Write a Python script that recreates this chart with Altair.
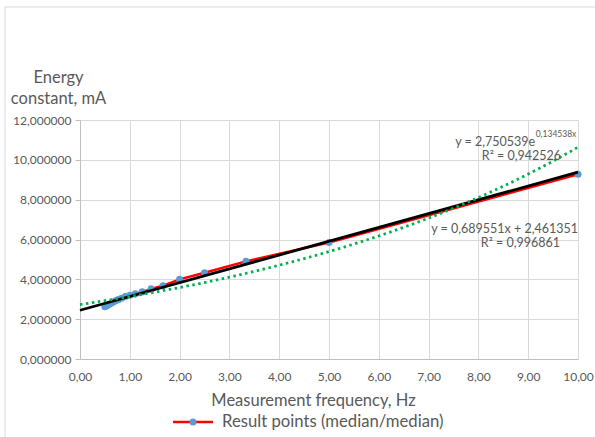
import altair as alt
import pandas as pd

# Measurement frequency (Hz) and energy constant (mA)
freq = [0.5, 0.526, 0.556, 0.588, 0.625, 0.667, 0.714, 0.769, 0.833, 0.909,
        1.0, 1.111, 1.25, 1.429, 1.667, 2.0, 2.5, 3.333, 5.0, 10.0]
energy = [2.62, 2.66, 2.70, 2.75, 2.80, 2.86, 2.92, 2.98, 3.05, 3.14,
          3.20, 3.27, 3.37, 3.52, 3.68, 4.00, 4.33, 4.90, 5.85, 9.28]

# Trendline labels (text, anchor x, anchor y in data units)
lin_labels = ["y = 0,689551x + 2,461351", "R\u00b2 = 0,996861"]
lin_label_x = [10.0, 9.64]
lin_label_y = [6.55, 5.8]
exp_labels = ["y = 2,750539e", "R\u00b2 = 0,942526"]
exp_label_x = [9.14, 9.66]
exp_label_y = [10.9, 10.2]
exp_sup = "0,134538x"

legend_text = "Result points (median/median)"

df = pd.DataFrame({"x": freq, "y": energy})

FONT = "Lato"
GREY = "#595959"
W, H = 498, 239

xs = alt.Scale(domain=[0, 10], nice=False, zero=False)
ys = alt.Scale(domain=[0, 12], nice=False, zero=False)

X = alt.X("x:Q", scale=xs,
          axis=alt.Axis(values=list(range(0, 11)),
                        labelExpr="replace(format(datum.value, '.2f'), '.', ',')",
                        labelFlush=False,
                        title="Measurement frequency, Hz",
                        titleX=233, titleY=46, titleAlign="center",
                        titleBaseline="alphabetic"))
Y = alt.Y("y:Q", scale=ys,
          axis=alt.Axis(values=list(range(0, 13, 2)),
                        labelExpr="replace(format(datum.value, '.6f'), '.', ',')",
                        labelFlush=False,
                        title=["Energy", "constant, mA"],
                        titleAngle=0, titleAlign="center",
                        titleBaseline="alphabetic",
                        titleX=-22, titleY=-38, titleLineHeight=21))

base = alt.Chart(df)

series_line = base.mark_line(color="#ff0000", strokeWidth=2.5).encode(x=X, y=Y)

points = base.mark_circle(color="#5b9bd5", opacity=1, size=50).encode(x=X, y=Y)

lin_trend = base.transform_regression("x", "y", method="linear", extent=[0, 10]).mark_line(
    color="#000000", strokeWidth=2.8).encode(x=X, y=Y)

# Excel-style exponential trendline: least squares on ln(y), sampled along x
exp_trend = base.transform_calculate(
    ly="log(datum.y)", xly="datum.x * log(datum.y)", xx="datum.x * datum.x"
).transform_aggregate(
    mx="mean(x)", ml="mean(ly)", mxl="mean(xly)", mxx="mean(xx)"
).transform_calculate(
    b="(datum.mxl - datum.mx * datum.ml) / (datum.mxx - datum.mx * datum.mx)"
).transform_calculate(
    a="datum.ml - datum.b * datum.mx",
    grid="sequence(0, 10.05, 0.1)"
).transform_flatten(["grid"]).transform_calculate(
    x="datum.grid", y="exp(datum.a + datum.b * datum.grid)"
).mark_line(
    color="#00b050", strokeWidth=2.8, strokeDash=[2.5, 3.5]).encode(x=X, y=Y)

lin_df = pd.DataFrame({"t": lin_labels, "x": lin_label_x, "y": lin_label_y})
lin_text = alt.Chart(lin_df).mark_text(font=FONT, fontSize=12.5, color=GREY,
                                       align="right", baseline="middle").encode(
    x=X, y=Y, text="t:N")

exp_df = pd.DataFrame({"t": exp_labels, "x": exp_label_x, "y": exp_label_y})
exp_text = alt.Chart(exp_df).mark_text(font=FONT, fontSize=12.5, color=GREY,
                                       align="right", baseline="middle").encode(
    x=X, y=Y, text="t:N")

sup_df = pd.DataFrame({"t": [exp_sup], "x": [9.15], "y": [11.3]})
sup_text = alt.Chart(sup_df).mark_text(font=FONT, fontSize=8.5, color=GREY,
                                       align="left", baseline="middle").encode(
    x=X, y=Y, text="t:N")

# legend (drawn below the plot)
leg_df = pd.DataFrame({"t": [legend_text]})
leg_line = alt.Chart(leg_df).mark_rule(color="#ff0000", strokeWidth=2.5).encode(
    x=alt.value(173 - 80), x2=alt.value(213 - 80), y=alt.value(422 - 120))
leg_dot = alt.Chart(leg_df).mark_circle(color="#5b9bd5", opacity=1, size=50).encode(
    x=alt.value(193 - 80), y=alt.value(422 - 120))
leg_text = alt.Chart(leg_df).mark_text(font=FONT, fontSize=16.7, color=GREY,
                                       align="left", baseline="middle").encode(
    x=alt.value(222 - 80), y=alt.value(422 - 120), text="t:N")

frame = alt.Chart(leg_df).mark_rect(fill=None, stroke="#d9d9d9", strokeWidth=1).encode(
    x=alt.value(5 - 80), y=alt.value(7 - 120), x2=alt.value(640 - 80), y2=alt.value(480 - 120))

chart = alt.layer(
    frame, series_line, points, lin_trend, exp_trend,
    lin_text, exp_text, sup_text, leg_line, leg_dot, leg_text
).properties(
    width=W, height=H,
    autosize=alt.AutoSizeParams(type="none"),
    padding={"left": 80, "top": 120, "right": 17, "bottom": 78},
    background="white",
).configure_view(stroke=None).configure_axis(
    labelFont=FONT, titleFont=FONT, labelColor=GREY, titleColor=GREY,
    labelFontSize=12, titleFontSize=16.5, titleFontWeight="normal",
    gridColor="#d9d9d9", gridWidth=1, domainColor="#bfbfbf", tickColor="#bfbfbf",
    labelOverlap=False,
).configure_axisY(tickSize=5, labelPadding=4, domain=True).configure_axisX(
    ticks=False, labelPadding=12)

chart.save("out.html", embed_options={"renderer": "svg", "actions": False})
